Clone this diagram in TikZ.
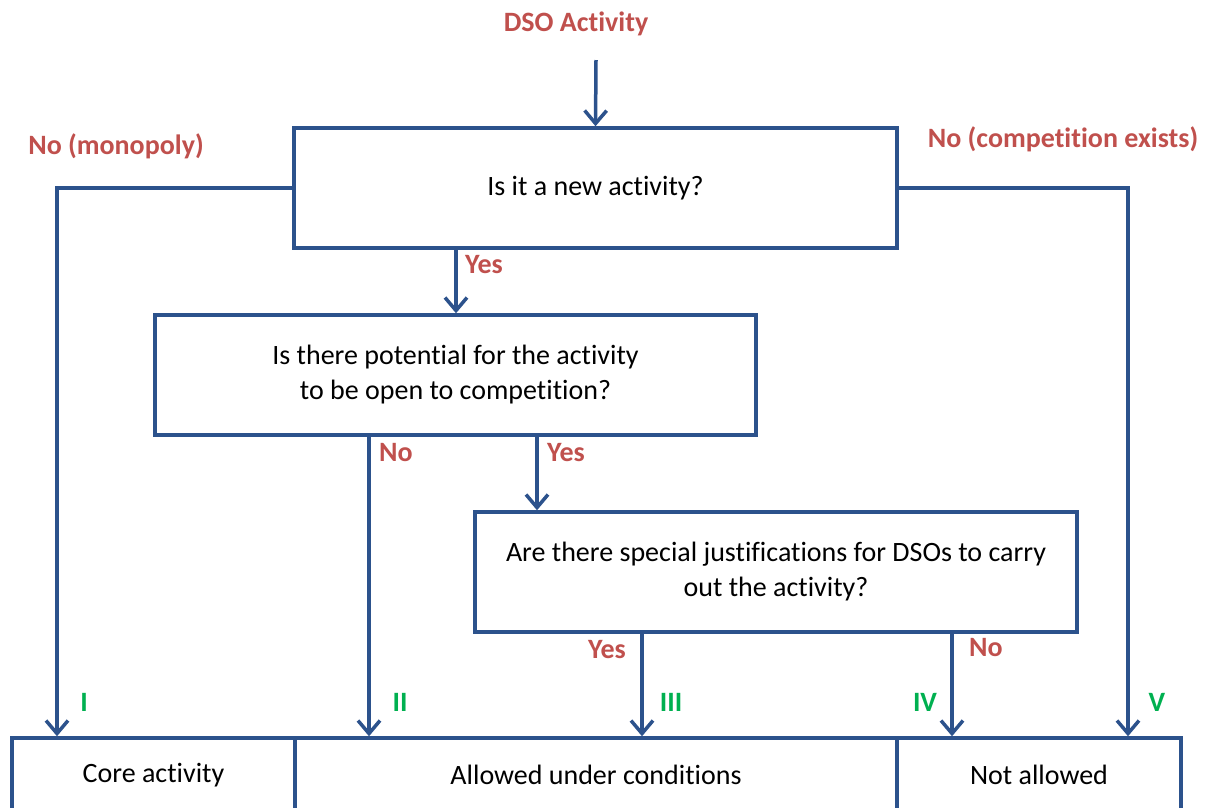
\documentclass[tikz,border=0pt]{standalone}
\usepackage{fontspec}
\setmainfont[Ligatures=NoCommon]{Carlito}
\usetikzlibrary{arrows.meta}
\definecolor{lineblue}{RGB}{44,82,140}
\definecolor{lblred}{RGB}{192,80,77}
\definecolor{lblgreen}{RGB}{0,176,80}
\tikzset{
  box/.style={draw=lineblue, line width=3.5pt, fill=white, inner sep=0pt, align=center, font=\fontsize{28}{35}\selectfont},
  arr/.style={draw=lineblue, line width=3.5pt, -{Straight Barb[length=13pt,width=22pt,line width=3.5pt]}},
  redlbl/.style={text=lblred, font=\bfseries\fontsize{28}{34}\selectfont, inner sep=0pt},
  grnlbl/.style={text=lblgreen, font=\bfseries\fontsize{28}{34}\selectfont, inner sep=0pt},
}
\begin{document}
\begin{tikzpicture}[x=1pt,y=-1pt]
\useasboundingbox (0,0) rectangle (1209,807);
\begin{scope}
\clip (0,0) rectangle (1209,807);
% boxes
\node[box, minimum width=603pt, minimum height=120pt] (q1) at (595.5,188) {Is it a new activity?};
\node[box, minimum width=601pt, minimum height=120pt] (q2) at (455.5,375) {Is there potential for the activity\\to be open to competition?};
\node[box, minimum width=602pt, minimum height=120pt] (q3) at (776,572) {Are there special justifications for DSOs to carry\\out the activity?};
\node[box, minimum width=283pt, minimum height=74pt] (core) at (153.5,775) {Core activity};
\node[box, minimum width=602pt, minimum height=74pt] (cond) at (596,775) {Allowed under conditions};
\node[box, minimum width=284pt, minimum height=74pt] (notal) at (1039,775) {Not allowed};
% labels
\node[redlbl] (dso) at (576,24) {DSO Activity};
\node[redlbl] (mono) at (116,146) {No (monopoly)};
\node[redlbl] (comp) at (1063,139) {No (competition exists)};
\node[redlbl, anchor=west] (y1) at (465,265) {Yes};
\node[redlbl, anchor=west] (n2) at (379,453) {No};
\node[redlbl, anchor=west] (y2) at (547,453) {Yes};
\node[redlbl, anchor=east] (y3) at (626,650) {Yes};
\node[redlbl, anchor=west] (n3) at (969,648) {No};
\node[grnlbl] (rI) at (84,702) {I};
\node[grnlbl] (rII) at (400,702) {II};
\node[grnlbl] (rIII) at (671,702) {III};
\node[grnlbl] (rIV) at (925,702) {IV};
\node[grnlbl] (rV) at (1157,702) {V};
% coordinates
\coordinate (start) at (596,60);
\coordinate (xI) at (57,0);
\coordinate (xII) at (369,0);
\coordinate (xIII) at (642,0);
\coordinate (xIV) at (952,0);
\coordinate (xV) at (1128,0);
\coordinate (xy1) at (456,0);
\coordinate (xy2) at (537,0);
% connectors
\draw[arr] (start) -- (q1.north);
\draw[arr] (q1.west) -| (xI |- core.north);
\draw[arr] (q1.east) -| (xV |- notal.north);
\draw[arr] (xy1 |- q1.south) -- (xy1 |- q2.north);
\draw[arr] (xII |- q2.south) -- (xII |- cond.north);
\draw[arr] (xy2 |- q2.south) -- (xy2 |- q3.north);
\draw[arr] (xIII |- q3.south) -- (xIII |- cond.north);
\draw[arr] (xIV |- q3.south) -- (xIV |- notal.north);
\end{scope}
\end{tikzpicture}
\end{document}
